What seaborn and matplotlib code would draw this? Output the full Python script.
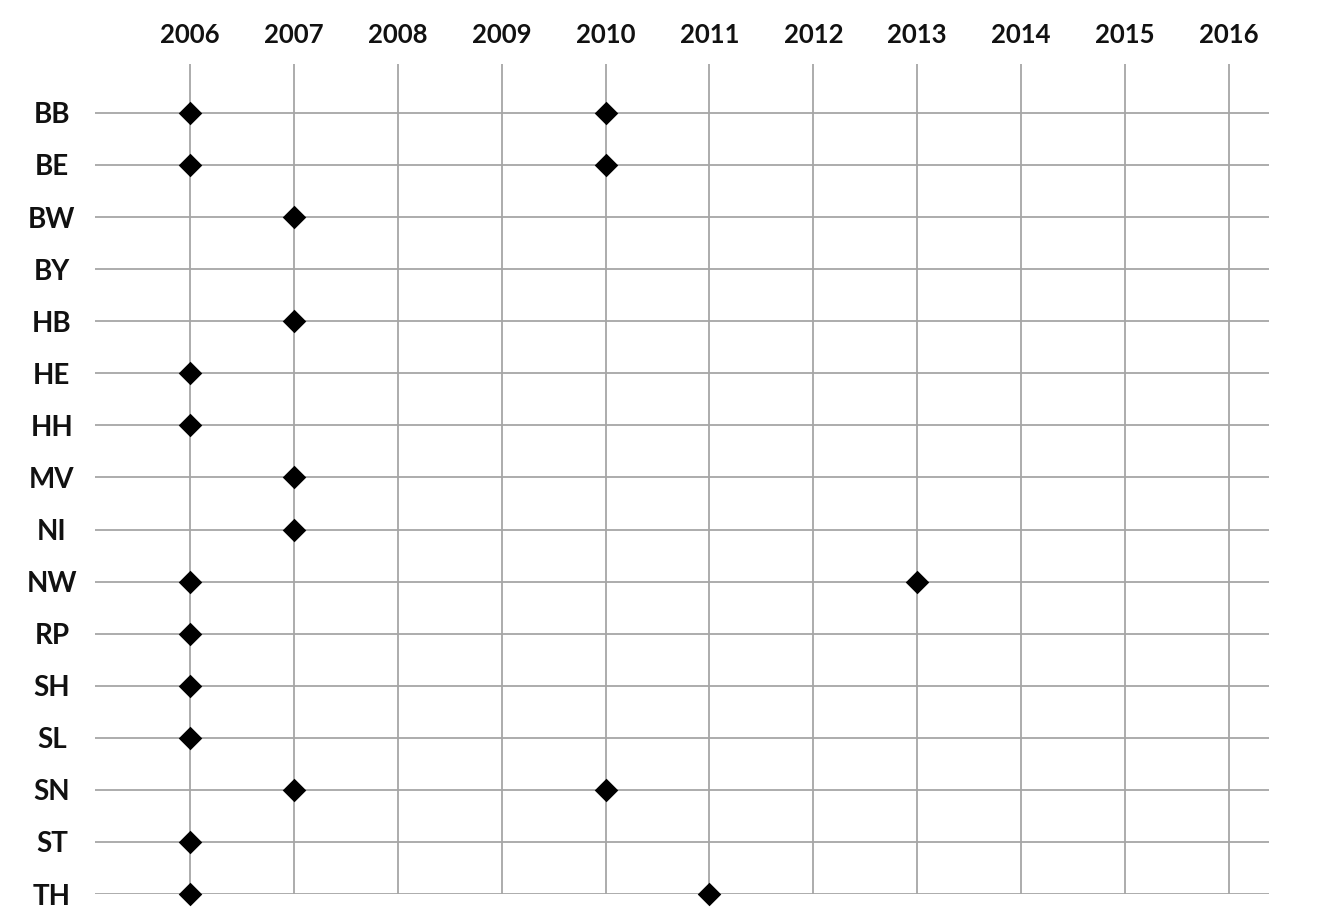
import matplotlib

matplotlib.use("Agg")

import matplotlib.pyplot as plt
import pandas as pd
import seaborn as sns

# state codes shown on the y axis, top to bottom
states = ["BB", "BE", "BW", "BY", "HB", "HE", "HH", "MV",
          "NI", "NW", "RP", "SH", "SL", "SN", "ST", "TH"]
years = list(range(2006, 2017))

# one point per (state, year) event
event_state = ["BB", "BB", "BE", "BE", "BW", "HB", "HE", "HH", "MV", "NI",
               "NW", "NW", "RP", "SH", "SL", "SN", "SN", "ST", "TH", "TH"]
event_year = [2006, 2010, 2006, 2010, 2007, 2007, 2006, 2006, 2007, 2007,
              2006, 2013, 2006, 2006, 2006, 2007, 2010, 2006, 2006, 2011]

df = pd.DataFrame({"state": event_state, "year": event_year})

sns.set_style("white")
plt.rcParams["font.family"] = ["Lato", "DejaVu Sans"]

fig = plt.figure(figsize=(13.21, 9.23), dpi=100)
ax = fig.add_axes([0.0719, 0.0314, 0.8887, 0.8993])

sns.stripplot(
    data=df, x="year", y="state", order=states, jitter=False,
    marker="D", color="black", size=12, linewidth=0, ax=ax,
)
for coll in ax.collections:
    coll.set_clip_on(False)
    coll.set_zorder(3)

ax.set_xlim(2005.086, 2016.385)
ax.set_ylim(len(states) - 1, -0.94)
ax.set_xticks(years)
ax.set_xticklabels([str(y) for y in years], fontsize=18.5, fontweight="bold")
ax.set_yticks(range(len(states)))
ax.set_yticklabels(states, fontsize=20, fontweight="bold", ha="center")
ax.xaxis.tick_top()
ax.tick_params(axis="x", length=0, pad=12.5, colors="#111111")
ax.tick_params(axis="y", length=0, pad=31, colors="#111111")
ax.set_xlabel("")
ax.set_ylabel("")

ax.grid(True, color="#a6a6a6", linewidth=1.3)
ax.set_axisbelow(True)
for spine in ax.spines.values():
    spine.set_visible(False)

fig.savefig("out.png", dpi=100)
plt.close(fig)
